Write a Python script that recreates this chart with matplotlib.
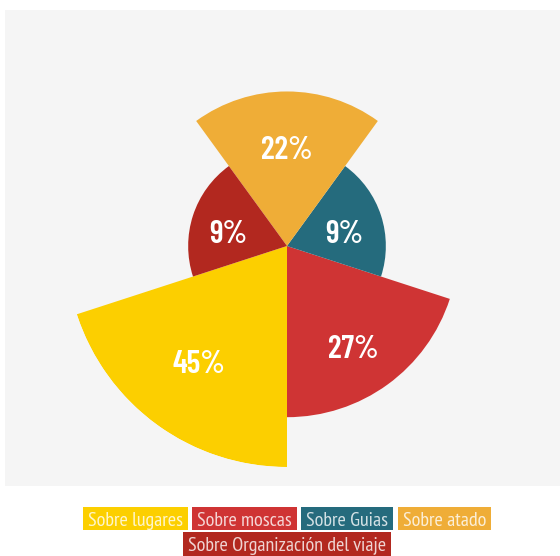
import numpy as np
import matplotlib
matplotlib.use("Agg")
import matplotlib.pyplot as plt
from matplotlib.patches import Rectangle

# ---- data ----
categories = ["Sobre lugares", "Sobre moscas", "Sobre Guias", "Sobre atado",
              "Sobre Organización del viaje"]
values = [45, 27, 9, 22, 9]
labels = ["45%", "27%", "9%", "22%", "9%"]
colors = ["#fccf00", "#cf3434", "#256b7d", "#efad37", "#b2281f"]

# label placement (layout): fraction of wedge radius, angular shift (deg)
label_rfrac = [0.66, 0.705, 0.595, 0.634, 0.61]
label_dtheta = [-1.0, -2.8, -4.0, 0.0, 4.6]

LABEL_FONT = ["Barlow Condensed", "Saira Condensed", "Roboto Condensed",
              "Oswald", "DejaVu Sans"]
LEGEND_FONT = ["Ubuntu Condensed", "PT Sans Narrow", "Roboto Condensed",
               "DejaVu Sans"]

W, H = 560, 556
fig = plt.figure(figsize=(W / 100, H / 100), dpi=100)
fig.patch.set_facecolor("white")

def fx(px):
    return px / W

def fy(py):
    return 1 - py / H

# light background panel
bg = Rectangle((fx(5), fy(486)), fx(560) - fx(5), fy(10) - fy(486),
               transform=fig.transFigure, facecolor="#f5f5f5",
               edgecolor="none", zorder=-2)
fig.add_artist(bg)

# polar area chart: radius ~ sqrt(value) (area proportional)
cx, cy, R = 287, 246, 221
ax = fig.add_axes([fx(cx - R), fy(cy + R), 2 * R / W, 2 * R / H],
                  projection="polar")
ax.set_facecolor("none")
n = len(values)
width = 2 * np.pi / n
theta = np.arange(n) * width
heights = np.sqrt(np.array(values, dtype=float))
ax.set_theta_offset(np.deg2rad(-126))
ax.set_theta_direction(1)
ax.bar(theta, heights, width=width, color=colors, linewidth=0, align="center")
ax.set_ylim(0, heights.max())
ax.set_xticks([])
ax.set_yticks([])
ax.grid(False)
ax.spines["polar"].set_visible(False)

for t, h, lab, rf, dt in zip(theta, heights, labels, label_rfrac, label_dtheta):
    ax.annotate(lab, xy=(t + np.deg2rad(dt), h * rf), xytext=(0, -11),
                textcoords="offset pixels", ha="center", va="baseline",
                color="white", fontsize=23, fontweight="semibold",
                family=LABEL_FONT)

# legend: coloured boxes with text inside, flow layout in two rows
rows = [[0, 1, 2, 3], [4]]
row_centers_y = [518.5, 544]
box_h = 23.5
padx = 5
gap = 4.5
fs = 14.5
texts = []
for i, cat in enumerate(categories):
    t = fig.text(0, 0, cat, ha="left", va="center_baseline", fontsize=fs,
                 color="white", alpha=0.8, family=LEGEND_FONT, zorder=3)
    texts.append(t)
fig.canvas.draw()
renderer = fig.canvas.get_renderer()
widths = [t.get_window_extent(renderer).width for t in texts]

center_x = 287
for row, ycen in zip(rows, row_centers_y):
    bw = [widths[i] + 2 * padx for i in row]
    total = sum(bw) + gap * (len(row) - 1)
    x = center_x - total / 2
    for i, w in zip(row, bw):
        rect = Rectangle((fx(x), fy(ycen + box_h / 2)), w / W, box_h / H,
                         transform=fig.transFigure, facecolor=colors[i],
                         edgecolor="none", zorder=2)
        fig.add_artist(rect)
        texts[i].set_position((fx(x + padx), fy(ycen)))
        x += w + gap

fig.savefig("out.png", dpi=100)
